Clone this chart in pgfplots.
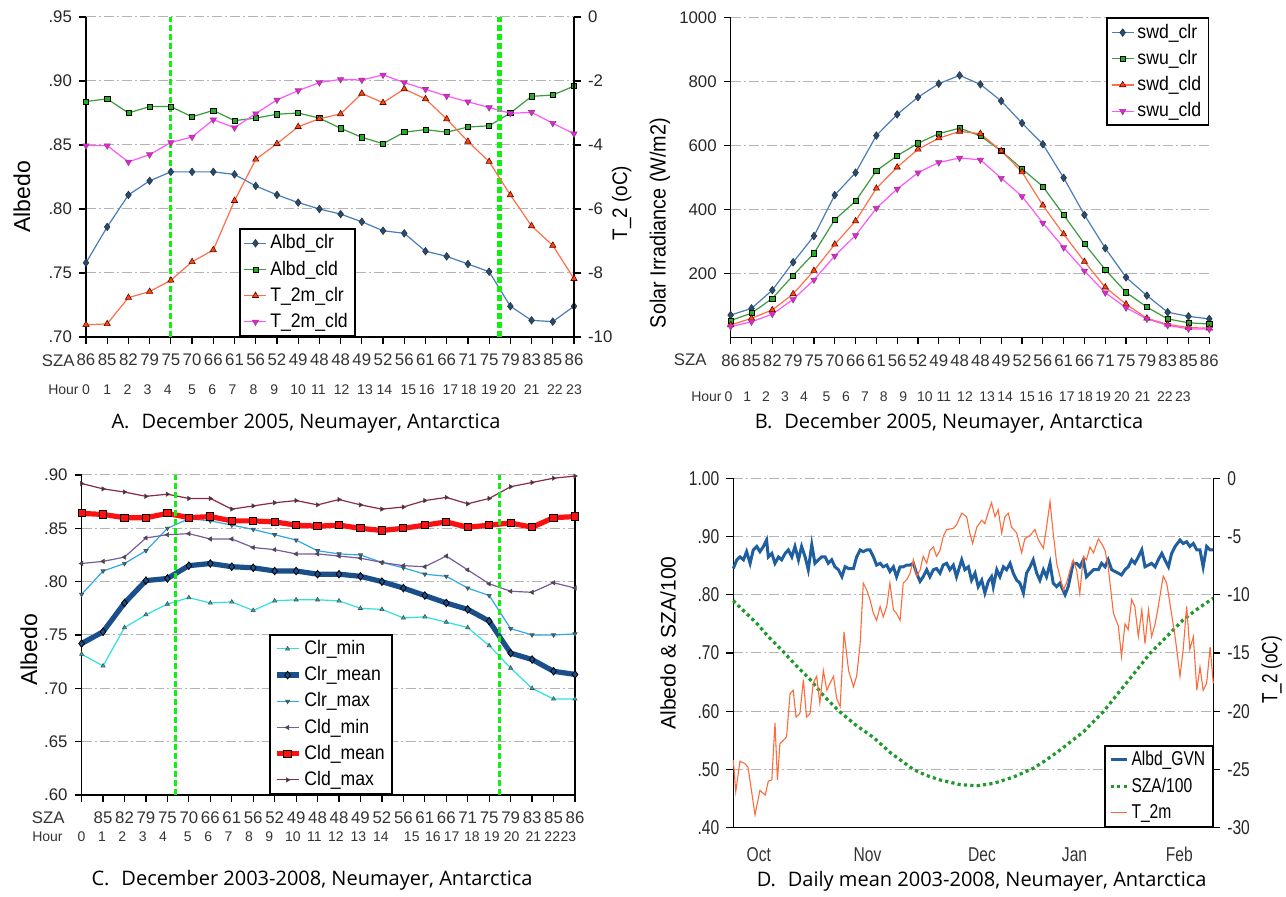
\documentclass[border=0pt]{standalone}
\usepackage{pgfplots}
\usepackage{pgfplotstable}
\pgfplotsset{compat=1.18}
\usepackage{fontspec}
\setmainfont{Liberation Sans}
\newfontfamily\legfont[FakeStretch=0.9]{Liberation Sans}
\newfontfamily\dfont[FakeStretch=0.78]{Liberation Sans}
\newfontfamily\capfont{Open Sans}

% series colours
\definecolor{clrline}{HTML}{4A7DB5}
\definecolor{clrmark}{HTML}{1F4E7A}
\definecolor{cldline}{HTML}{3C9B3C}
\definecolor{cldmark}{HTML}{22B022}
\definecolor{tclrline}{HTML}{FF6E4A}
\definecolor{tclrmark}{HTML}{FF4A0A}
\definecolor{tcldline}{HTML}{FF55FF}
\definecolor{tcldmark}{HTML}{EE1AEE}
\definecolor{vgreen}{HTML}{11EE11}
\definecolor{gridgray}{HTML}{B4B4B4}
\definecolor{cmin}{HTML}{30E0E0}
\definecolor{cmean}{HTML}{1A4F8A}
\definecolor{cmax}{HTML}{30A8E8}
\definecolor{dmin}{HTML}{7A5A9A}
\definecolor{dmean}{HTML}{FF1010}
\definecolor{dmax}{HTML}{8A2A4A}
\definecolor{albd}{HTML}{1F5FA0}
\definecolor{sza}{HTML}{1E9A2A}
\definecolor{t2m}{HTML}{FF6A3A}

% hourly means, December 2005
\pgfplotstableread{
h clr  cld   tclr  tcld
0  .758 .884 -9.62 -4.02
1  .786 .886 -9.59 -4.02
2  .811 .875 -8.77 -4.53
3  .822 .880 -8.58 -4.30
4  .829 .880 -8.23 -3.92
5  .829 .872 -7.65 -3.75
6  .829 .877 -7.28 -3.21
7  .827 .869 -5.74 -3.46
8  .818 .871 -4.45 -3.02
9  .811 .874 -3.96 -2.59
10 .805 .875 -3.43 -2.30
11 .800 .871 -3.18 -2.05
12 .796 .863 -3.03 -1.95
13 .790 .856 -2.39 -1.97
14 .783 .851 -2.68 -1.81
15 .781 .860 -2.25 -2.05
16 .767 .862 -2.56 -2.26
17 .763 .860 -3.19 -2.47
18 .757 .864 -3.89 -2.65
19 .751 .865 -4.52 -2.83
20 .724 .875 -5.56 -3.01
21 .713 .888 -6.53 -2.98
22 .712 .889 -7.14 -3.32
23 .724 .896 -8.18 -3.65
}\tabA

\pgfplotstableread{
h dclr uclr dcld ucld
0  70  53  39  34
1  91  76  60  49
2  148 122 86  73
3  235 194 136 119
4  317 263 209 180
5  445 368 291 255
6  515 426 364 319
7  631 521 466 404
8  697 568 532 464
9  751 607 588 515
10 793 637 623 547
11 819 654 644 561
12 791 630 637 555
13 739 583 583 498
14 670 527 517 441
15 604 472 413 358
16 499 383 323 281
17 383 293 237 208
18 279 212 157 140
19 188 141 104 93
20 131 95  60  58
21 79  58  41  38
22 66  46  31  27
23 58  42  29  26
}\tabB

\pgfplotstableread{
h rmin rmean rmax dmin dmean dmax
0  .732 .742 .788 .817 .864 .892
1  .721 .753 .810 .819 .863 .887
2  .757 .780 .817 .823 .860 .884
3  .769 .801 .829 .841 .860 .880
4  .779 .803 .850 .844 .864 .882
5  .785 .815 .859 .845 .860 .878
6  .780 .817 .857 .840 .861 .878
7  .781 .814 .853 .840 .857 .868
8  .773 .813 .849 .832 .857 .871
9  .782 .810 .844 .830 .856 .874
10 .783 .810 .839 .826 .853 .876
11 .783 .807 .829 .826 .852 .872
12 .782 .807 .826 .824 .853 .877
13 .775 .805 .825 .822 .850 .872
14 .774 .800 .818 .818 .848 .868
15 .766 .794 .813 .815 .850 .870
16 .767 .787 .807 .814 .853 .876
17 .762 .780 .805 .824 .856 .879
18 .757 .774 .794 .811 .851 .873
19 .740 .763 .787 .798 .853 .878
20 .719 .733 .756 .791 .855 .889
21 .700 .727 .750 .790 .851 .893
22 .690 .716 .750 .799 .860 .897
23 .690 .713 .751 .794 .861 .899
}\tabC

% daily albedo (days counted from the left edge of the season axis)
\pgfplotstableread{
d a
0 .845
1.0 .860
1.9 .865
2.9 .860
3.8 .874
4.8 .854
5.7 .877
6.7 .883
7.6 .874
8.6 .883
9.5 .894
10.0 .865
11.0 .871
11.9 .854
12.9 .865
13.8 .860
14.8 .871
15.7 .877
16.7 .865
17.6 .883
18.6 .860
19.5 .883
20.5 .865
21.4 .843
22.4 .886
23.3 .854
24.3 .860
25.2 .865
26.2 .865
27.1 .854
28.1 .860
29.0 .848
30.0 .843
31.0 .831
31.9 .848
32.9 .845
34.3 .845
35.2 .865
36.2 .877
37.1 .874
38.1 .877
39.0 .877
40.0 .865
40.9 .851
41.9 .854
42.8 .848
43.8 .851
44.7 .840
45.7 .848
46.6 .831
47.6 .848
48.5 .848
49.5 .851
50.4 .851
51.4 .854
52.3 .837
53.3 .823
54.2 .831
55.2 .843
56.1 .831
57.1 .843
58.0 .845
59.0 .837
59.9 .851
60.9 .854
61.8 .843
62.8 .851
63.7 .831
65.2 .860
66.1 .843
67.1 .848
68.0 .825
69.0 .837
69.9 .814
70.9 .825
71.8 .803
72.8 .823
73.7 .831
74.2 .814
75.2 .843
76.1 .831
77.1 .848
78.0 .843
79.0 .854
79.9 .837
80.9 .825
81.8 .820
82.8 .803
83.7 .837
84.7 .848
85.6 .860
86.6 .837
87.5 .825
88.5 .843
89.4 .831
90.4 .854
91.3 .820
92.3 .814
93.2 .820
94.7 .800
95.6 .814
97.0 .854
98.0 .854
98.9 .848
99.9 .860
100.8 .831
101.8 .837
102.8 .843
104.2 .843
105.1 .854
106.1 .848
107.0 .860
108.0 .843
108.9 .840
109.9 .837
110.8 .834
111.8 .843
112.7 .848
113.7 .860
114.6 .854
115.6 .865
116.6 .877
117.5 .848
118.5 .851
119.4 .854
120.4 .848
121.3 .860
122.3 .871
123.2 .860
124.2 .848
125.1 .871
126.1 .883
127.5 .894
128.4 .888
129.4 .891
130.3 .883
131.3 .888
132.3 .877
133.2 .877
134.1 .848
135.1 .883
136.1 .877
137.0 .877
}\tabDa

% noon solar zenith angle / 100
\pgfplotstableread{
d s
0 .790
3 .772
6.7 .751
10 .728
14.3 .702
18 .678
22 .654
26 .625
30.4 .599
35 .576
40 .555
45 .528
51.4 .500
55 .490
59 .482
64.7 .474
69.5 .472
74.2 .476
80 .487
85.6 .502
89 .515
93.2 .533
100 .565
105.6 .599
112 .647
118.9 .699
124 .730
128.4 .757
133 .778
137 .794
}\tabDs

% daily 2 m temperature
\pgfplotstableread{
d t
0 -24.2
0.7 -26.9
1.9 -24.3
3.3 -24.5
4.2 -24.8
6.2 -28.9
7.6 -26.8
9.1 -27.2
10.0 -26.0
11.0 -25.9
11.9 -21.0
12.6 -25.9
13.3 -22.8
14.3 -22.5
15.2 -22.2
16.2 -18.5
17.1 -18.2
17.9 -20.5
19.0 -20.2
20.0 -17.3
20.9 -20.5
21.9 -20.2
22.8 -17.6
23.8 -17.0
24.7 -19.3
25.7 -16.5
26.7 -18.2
27.6 -17.6
28.6 -17.0
29.5 -18.9
30.5 -19.6
31.6 -13.2
32.9 -16.5
34.3 -17.9
35.2 -17.0
36.2 -14.2
37.1 -9.0
38.1 -9.6
39.0 -10.4
40.0 -11.6
40.9 -12.2
41.9 -11.0
42.8 -11.9
43.8 -11.0
44.7 -9.0
45.7 -11.3
46.6 -11.6
47.6 -12.2
48.5 -9.0
49.5 -8.7
50.4 -8.2
51.4 -7.0
52.3 -8.4
53.3 -7.9
54.2 -6.7
55.2 -7.3
56.1 -6.2
57.1 -5.9
58.0 -6.7
59.0 -6.2
59.9 -5.0
60.9 -4.4
62.8 -4.3
63.7 -4.0
65.2 -3.0
66.6 -3.3
67.5 -4.7
68.3 -5.6
69.5 -4.2
70.9 -3.6
71.8 -3.9
72.8 -2.9
73.7 -2.1
74.7 -3.3
75.6 -2.7
76.6 -4.7
77.5 -3.3
78.5 -3.0
79.4 -4.2
80.9 -4.7
82.3 -6.4
83.2 -5.2
84.7 -4.9
86.1 -4.4
87.1 -5.3
88.5 -6.0
89.4 -4.2
90.4 -2.0
91.3 -4.7
92.3 -7.3
93.2 -8.4
94.2 -9.6
95.1 -9.0
96.1 -7.9
97.0 -7.0
98.0 -7.9
98.9 -9.9
99.9 -6.7
100.8 -7.0
101.8 -5.9
102.8 -6.4
104.2 -5.2
105.1 -5.6
106.1 -6.2
107.0 -7.6
108.5 -11.6
109.9 -12.7
110.8 -15.3
111.8 -12.5
112.7 -13.0
113.7 -10.4
114.6 -11.0
115.6 -13.6
116.6 -11.3
117.5 -14.2
118.5 -11.3
119.4 -13.6
120.4 -12.5
121.3 -11.0
122.7 -8.4
123.7 -9.0
124.6 -10.7
126.1 -13.6
127.5 -17.0
128.4 -14.7
129.4 -11.0
130.3 -14.7
131.3 -13.6
132.3 -18.2
133.2 -16.2
134.1 -18.2
135.1 -17.6
136.1 -14.5
137.0 -17.6
}\tabDt

\pgfplotsset{
  panel/.style={
    scale only axis, clip=false,
    axis line style={-, line width=0.7pt, black},
    tick align=outside, major tick length=3.5pt,
    tick style={black, line width=0.6pt},
    ymajorgrids,
    major grid style={gridgray, line width=0.5pt, dash pattern=on 5pt off 1.5pt on 1pt off 1.5pt},
    yticklabel style={font=\fontsize{8.4}{9}\selectfont, text=black!85},
    xticklabel style={font=\fontsize{8.4}{9}\selectfont, text=black!80, anchor=base, yshift=-11pt},
  },
  leg/.style={
    legend cell align=left,
    legend style={draw=black, line width=0.9pt, fill=white, inner xsep=2pt, inner ysep=1.2pt,
      font=\legfont\fontsize{9.8}{10}\selectfont, row sep=1.3pt, nodes={inner sep=1.6pt}},
    legend image code/.code={\draw[mark repeat=2,mark phase=2] plot coordinates {(0pt,0pt) (5.5pt,0pt) (11pt,0pt)};},
  },
  sA/.style={clrline, line width=0.6pt, mark=diamond*, mark size=1.9pt,
    mark options={fill=clrmark, draw=black!80, line width=0.3pt}},
  sB/.style={cldline, line width=0.6pt, mark=square*, mark size=1.3pt,
    mark options={fill=cldmark, draw=black, line width=0.3pt}},
  sC/.style={tclrline, line width=0.6pt, mark=triangle*, mark size=1.8pt,
    mark options={fill=tclrmark, draw=black!60!red, line width=0.3pt}},
  sD/.style={tcldline, line width=0.6pt, mark=triangle*, mark size=1.8pt,
    mark options={fill=tcldmark, draw=black!50!magenta, line width=0.3pt, rotate=180}},
  cminS/.style={cmin, line width=0.6pt, mark=triangle*, mark size=1.2pt,
    mark options={fill=cmin!60!teal, draw=black!70, line width=0.3pt}},
  cmeanS/.style={cmean, line width=2.6pt, mark=diamond*, mark size=1.9pt,
    mark options={fill=cmean, draw=black, line width=0.4pt}},
  cmaxS/.style={cmax, line width=0.6pt, mark=triangle*, mark size=1.2pt,
    mark options={fill=cmax!70!black, draw=black!70, line width=0.3pt, rotate=180}},
  dminS/.style={dmin, line width=0.6pt, mark=triangle*, mark size=1.2pt,
    mark options={fill=dmin!70!black, draw=black!70, line width=0.3pt, rotate=90}},
  dmeanS/.style={dmean, line width=2.6pt, mark=square*, mark size=1.8pt,
    mark options={fill=dmean, draw=black, line width=0.5pt}},
  dmaxS/.style={dmax, line width=0.6pt, mark=triangle*, mark size=1.2pt,
    mark options={fill=dmax!70!black, draw=black!70, line width=0.3pt, rotate=-90}},
  vline/.style={vgreen, line width=1.5pt, dash pattern=on 3pt off 1.5pt, mark=none},
}

\newcommand{\rowlab}[3]{\node[anchor=base east, inner sep=0pt, font=#3, text=black!80] at #1 {#2};}
\newcommand{\capsize}{\capfont\fontsize{10}{12}\selectfont}
\newcommand{\hoursize}{\fontsize{7}{8}\selectfont}
% hour-of-day row: #1 axis left (pt), #2 width of one hour step (pt), #3 baseline (pt), #4 positions
\newcommand{\hourrow}[4]{%
  \foreach \p [count=\i from 0] in {#4}
    {\node[anchor=base, inner sep=0pt, font=\hoursize, text=black!80] at ({(#1+#2*\p)*1pt},#3pt) {\i};}}

\begin{document}
\begin{tikzpicture}
\path[use as bounding box] (0pt,0pt) rectangle (643pt,448.5pt);

%================ A =================
\begin{axis}[panel, at={(43pt,280pt)}, anchor=south west, width=244pt, height=160pt,
  xmin=0, xmax=23, ymin=0.70, ymax=0.95,
  axis x line*=bottom, axis y line*=left,
  xtick={0,...,23},
  xticklabels={86,85,82,79,75,70,66,61,56,52,49,48,48,49,52,56,61,66,71,75,79,83,85,86},
  ytick={0.70,0.75,0.80,0.85,0.90,0.95}, yticklabels={.70,.75,.80,.85,.90,.95},
]
\addplot[sA] table[x=h, y=clr] {\tabA};
\addplot[sB] table[x=h, y=cld] {\tabA};
\addplot[vline] coordinates {(4,0.70) (4,0.95)};
\addplot[vline, line width=2.4pt] coordinates {(19.5,0.70) (19.5,0.95)};
\end{axis}
\begin{axis}[panel, ymajorgrids=false, at={(43pt,280pt)}, anchor=south west, width=244pt, height=160pt,
  xmin=0, xmax=23, ymin=-10, ymax=0, xtick=\empty,
  axis x line=none, axis y line*=right,
  ytick={-10,-8,-6,-4,-2,0}, yticklabels={-10,-8,-6,-4,-2,0},
  yticklabel style={anchor=west},
  leg, legend style={at={(0.3135,0)}, anchor=south west},
]
\addlegendimage{sA}\addlegendentry{Albd\_clr}
\addlegendimage{sB}\addlegendentry{Albd\_cld}
\addplot[sC] table[x=h, y=tclr] {\tabA}; \addlegendentry{T\_2m\_clr}
\addplot[sD] table[x=h, y=tcld] {\tabA}; \addlegendentry{T\_2m\_cld}
\end{axis}
\rowlab{(37.5pt,265.1pt)}{SZA}{\fontsize{8.4}{9}\selectfont}
\rowlab{(39.5pt,251pt)}{Hour}{\hoursize}
\hourrow{43}{10.6087}{251}{0,1,1.96,2.9,3.85,5,5.95,6.9,7.9,8.87,10,10.95,12.05,13.15,14.06,15.19,16.06,17.17,18.03,19,19.9,21,22.1,23}
\node[rotate=90, font=\fontsize{11.5}{12}\selectfont] at (11pt,350pt) {Albedo};
\node[rotate=90, font=\legfont\fontsize{10.5}{12}\selectfont] at (310.8pt,347pt) {T\_2 (oC)};
\node[font=\capsize] at (153pt,237pt) {A.\hspace{0.6em}December 2005, Neumayer, Antarctica};

%================ B =================
\begin{axis}[panel, at={(365.35pt,279.75pt)}, anchor=south west, width=239.3pt, height=160pt,
  xmin=0, xmax=23, ymin=0, ymax=1000,
  axis x line*=bottom, axis y line*=left,
  xtick={0,...,23},
  xticklabels={86,85,82,79,75,70,66,61,56,52,49,48,48,49,52,56,61,66,71,75,79,83,85,86},
  ytick={200,400,600,800,1000}, yticklabels={200,400,600,800,1000},
  leg, legend style={at={(1,1)}, anchor=north east},
]
\addplot[sA] table[x=h, y=dclr] {\tabB}; \addlegendentry{swd\_clr}
\addplot[sB] table[x=h, y=uclr] {\tabB}; \addlegendentry{swu\_clr}
\addplot[sC] table[x=h, y=dcld] {\tabB}; \addlegendentry{swd\_cld}
\addplot[sD] table[x=h, y=ucld] {\tabB}; \addlegendentry{swu\_cld}
\end{axis}
\rowlab{(353.5pt,265.5pt)}{SZA}{\fontsize{8.4}{9}\selectfont}
\rowlab{(361pt,247.5pt)}{Hour}{\hoursize}
\hourrow{365.35}{10.4043}{247.5}{-0.11,0.8,1.7,2.61,3.52,4.61,5.54,6.45,7.36,8.29,9.33,10.25,11.26,12.32,13.19,14.25,15.11,16.15,17.03,17.9,18.8,19.8,20.87,21.73}
\node[rotate=90, font=\legfont\fontsize{11}{12}\selectfont] at (330pt,337pt) {Solar Irradiance (W/m2)};
\node[font=\capsize] at (474.5pt,237pt) {B.\hspace{0.6em}December 2005, Neumayer, Antarctica};

%================ C =================
\begin{axis}[panel, at={(40.8pt,51pt)}, anchor=south west, width=246.7pt, height=160pt,
  xmin=0, xmax=23, ymin=0.60, ymax=0.90,
  axis x line*=bottom, axis y line*=left,
  xtick={0,...,23},
  xticklabels={,85,82,79,75,70,66,61,56,52,49,48,48,49,52,56,61,66,71,75,79,83,85,86},
  ytick={0.60,0.65,0.70,0.75,0.80,0.85,0.90}, yticklabels={.60,.65,.70,.75,.80,.85,.90},
  leg, legend style={at={(0.38,0)}, anchor=south west},
]
\addplot[cminS] table[x=h, y=rmin] {\tabC}; \addlegendentry{Clr\_min}
\addplot[cmeanS] table[x=h, y=rmean] {\tabC}; \addlegendentry{Clr\_mean}
\addplot[cmaxS] table[x=h, y=rmax] {\tabC}; \addlegendentry{Clr\_max}
\addplot[dminS] table[x=h, y=dmin] {\tabC}; \addlegendentry{Cld\_min}
\addplot[dmeanS] table[x=h, y=dmean] {\tabC}; \addlegendentry{Cld\_mean}
\addplot[dmaxS] table[x=h, y=dmax] {\tabC}; \addlegendentry{Cld\_max}
\addplot[vline, forget plot] coordinates {(4.4,0.60) (4.4,0.90)};
\addplot[vline, forget plot] coordinates {(19.5,0.60) (19.5,0.90)};
\draw[black, line width=0.7pt] (rel axis cs:1,0) -- (rel axis cs:1,1);
\end{axis}
\rowlab{(32.5pt,36.6pt)}{SZA}{\fontsize{8.4}{9}\selectfont}
\rowlab{(31.5pt,27.5pt)}{Hour}{\hoursize}
\hourrow{40.8}{10.7261}{27.5}{0,0.95,1.9,2.85,3.8,4.95,5.9,6.85,7.8,8.75,9.85,10.85,11.85,12.9,13.95,15.39,16.38,17.25,18.19,19.12,20.05,21.06,21.94,22.69}
\node[rotate=90, font=\fontsize{11.5}{12}\selectfont] at (14.5pt,123.5pt) {Albedo};
\node[font=\capsize] at (156pt,8.5pt) {C.\hspace{0.6em}December 2003-2008, Neumayer, Antarctica};

%================ D =================
\begin{axis}[panel, at={(366.65pt,34.65pt)}, anchor=south west, width=240pt, height=174.7pt,
  xmin=0, xmax=137, ymin=0.40, ymax=1.00,
  axis x line*=bottom, axis y line*=left, xtick style={draw=none},
  xtick={7.3,38.3,71,97.4,127.3}, xticklabels={Oct,Nov,Dec,Jan,Feb},
  xticklabel style={font=\dfont\fontsize{10}{11}\selectfont, yshift=-2.5pt},
  ytick={0.4,0.5,0.6,0.7,0.8,0.9,1.0}, yticklabels={.40,.50,.60,.70,.80,.90,1.00},
  yticklabel style={font=\dfont\fontsize{10}{11}\selectfont},
]
\addplot[albd, line width=1.5pt, mark=none] table[x=d, y=a] {\tabDa};
\addplot[sza, line width=1.6pt, dash pattern=on 1.6pt off 1.6pt, mark=none] table[x=d, y=s] {\tabDs};
\end{axis}
\begin{axis}[panel, ymajorgrids=false, at={(366.65pt,34.65pt)}, anchor=south west, width=240pt, height=174.7pt,
  xmin=0, xmax=137, ymin=-30, ymax=0, xtick=\empty,
  axis x line=none, axis y line*=right,
  ytick={-30,-25,-20,-15,-10,-5,0}, yticklabels={-30,-25,-20,-15,-10,-5,0},
  yticklabel style={anchor=west, font=\dfont\fontsize{10}{11}\selectfont},
  leg, legend style={at={(1,0)}, anchor=south east, font=\dfont\fontsize{10}{10}\selectfont},
  legend image code/.code={\draw (0pt,0pt) -- (8pt,0pt);},
]
\addlegendimage{albd, line width=1.5pt}\addlegendentry{Albd\_GVN}
\addlegendimage{sza, line width=1.6pt, dash pattern=on 1.6pt off 1.6pt}\addlegendentry{SZA/100}
\addplot[t2m, line width=0.55pt, mark=none] table[x=d, y=t] {\tabDt}; \addlegendentry{T\_2m}
\end{axis}
\node[rotate=90, font=\fontsize{10.5}{12}\selectfont] at (334pt,127pt) {Albedo \& SZA/100};
\node[rotate=90, font=\dfont\fontsize{11}{12}\selectfont] at (635.8pt,113.5pt) {T\_2 (oC)};
\node[font=\capsize] at (490.8pt,7.6pt) {D.\hspace{0.6em}Daily mean 2003-2008, Neumayer, Antarctica};
\end{tikzpicture}
\end{document}
